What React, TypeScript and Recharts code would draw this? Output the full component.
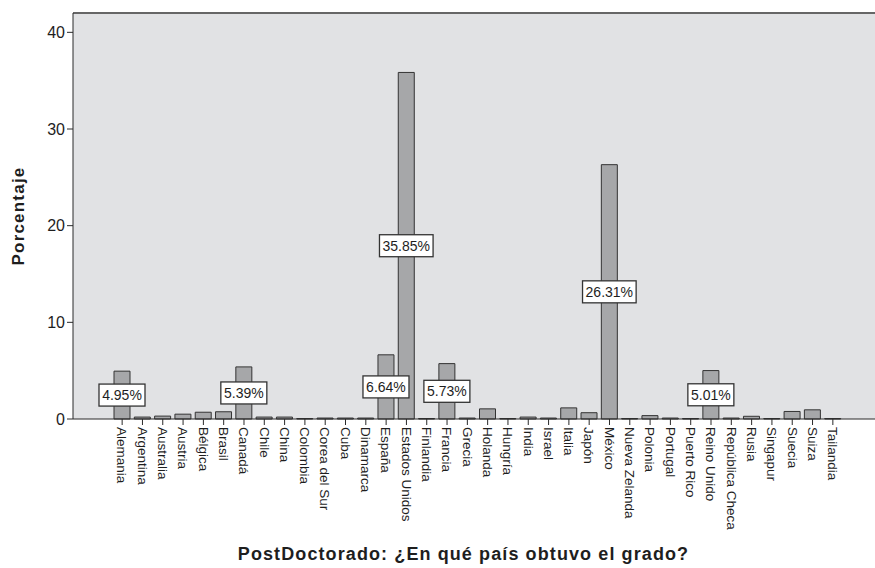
import React from 'react'
import { BarChart, Bar, XAxis, YAxis, CartesianGrid, ReferenceLine, LabelList } from 'recharts'

const countries = [
  'Alemania', 'Argentina', 'Australia', 'Austria', 'Bélgica', 'Brasil', 'Canadá', 'Chile', 'China',
  'Colombia', 'Corea del Sur', 'Cuba', 'Dinamarca', 'España', 'Estados Unidos', 'Finlandia', 'Francia',
  'Grecia', 'Holanda', 'Hungría', 'India', 'Israel', 'Italia', 'Japón', 'México', 'Nueva Zelanda',
  'Polonia', 'Portugal', 'Puerto Rico', 'Reino Unido', 'República Checa', 'Rusia', 'Singapur', 'Suecia',
  'Suiza', 'Tailandia'
]

const percentages = [
  4.95, 0.2, 0.3, 0.5, 0.7, 0.75, 5.39, 0.2, 0.2,
  0.05, 0.1, 0.1, 0.1, 6.64, 35.85, 0.05, 5.73,
  0.1, 1.05, 0.05, 0.2, 0.1, 1.15, 0.65, 26.31, 0.05,
  0.35, 0.1, 0.05, 5.01, 0.1, 0.28, 0.05, 0.78,
  0.95, 0.05
]

const yTicks = [0, 10, 20, 30, 40]

const data = countries.map((country, i) => ({ country, pct: percentages[i] }))

const FONT = '"Liberation Sans", Arial, sans-serif'
const INK = '#1e1e1e'

function XTick(props: any) {
  const { x, y, payload } = props
  return (
    <text
      transform={`translate(${x},${y}) rotate(90)`}
      dy="0.35em"
      textAnchor="start"
      fontSize={13.5}
      fontFamily={FONT}
      fill={INK}
    >
      {payload.value}
    </text>
  )
}

function XTitle(props: any) {
  const { viewBox } = props
  return (
    <text
      x={viewBox.x + viewBox.width / 2 - 14}
      y={viewBox.y + 141}
      textAnchor="middle"
      fontSize={18}
      fontWeight="bold"
      letterSpacing={1.1}
      fontFamily={FONT}
      fill={INK}
    >
      PostDoctorado: ¿En qué país obtuvo el grado?
    </text>
  )
}

function YTitle(props: any) {
  const { viewBox } = props
  const cx = viewBox.x + 18
  const cy = viewBox.y + viewBox.height / 2
  return (
    <text
      transform={`translate(${cx},${cy}) rotate(-90)`}
      dy="0.35em"
      textAnchor="middle"
      fontSize={17}
      fontWeight="bold"
      letterSpacing={1.2}
      fontFamily={FONT}
      fill={INK}
    >
      Porcentaje
    </text>
  )
}

function PctLabel(props: any) {
  const { x, y, width, height, value } = props
  if (value < 3) return null
  const cx = Number(x) + Number(width) / 2
  const cy = Number(y) + Number(height) / 2
  const txt = Number(value).toFixed(2) + '%'
  const w = txt.length * 7.6 + 8
  return (
    <g>
      <rect x={cx - w / 2} y={cy - 11} width={w} height={22} fill="#fff" stroke="#333" strokeWidth={1.3} />
      <text x={cx} y={cy} dy="0.36em" textAnchor="middle" fontSize={14} fontFamily={FONT} fill={INK}>
        {txt}
      </text>
    </g>
  )
}

export default function App() {
  return (
    <div
      style={{
        position: 'absolute',
        left: 0,
        top: 0,
        width: 875,
        height: 568,
        overflow: 'hidden',
        background: '#fff'
      }}
    >
      <BarChart width={890} height={568} data={data} margin={{ top: 13, right: 8, left: 0, bottom: 0 }}>
        <CartesianGrid horizontal={false} vertical={false} fill="#e1e2e4" />
        <XAxis
          dataKey="country"
          interval={0}
          height={149}
          tickSize={6}
          padding={{ left: 39, right: 39 }}
          stroke="#2a2a2a"
          tick={<XTick />}
          label={<XTitle />}
        />
        <YAxis
          width={73}
          domain={[0, 42]}
          ticks={yTicks}
          tickSize={6}
          stroke="#2a2a2a"
          tick={{ fontSize: 16, fill: INK, fontFamily: FONT }}
          label={<YTitle />}
        />
        <ReferenceLine y={42} stroke="#666" strokeWidth={2} />
        <Bar dataKey="pct" barSize={16} fill="#a6a7a9" stroke="#333" strokeWidth={1} isAnimationActive={false}>
          <LabelList dataKey="pct" content={<PctLabel />} />
        </Bar>
      </BarChart>
    </div>
  )
}
